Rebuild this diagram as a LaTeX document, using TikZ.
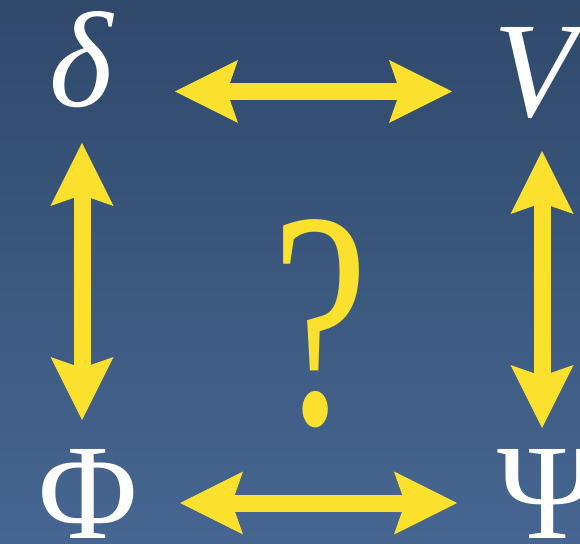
\documentclass[tikz,border=0pt]{standalone}
\usepackage{fontspec}
\setmainfont{Liberation Serif}
\usepackage{tikz}
\usetikzlibrary{arrows.meta,positioning}
\definecolor{bgtop}{RGB}{48,73,107}
\definecolor{bgbot}{RGB}{70,102,145}
\definecolor{sunny}{RGB}{251,225,45}

\begin{document}
\begin{tikzpicture}[
  x=1pt, y=1pt,
  sym/.style={inner sep=0pt, anchor=base, text=white, font=\fontsize{136}{136}\selectfont},
  quest/.style={inner sep=0pt, anchor=base, text=sunny, font=\fontsize{308}{308}\selectfont},
  dbl/.style={{Stealth[length=63pt, width=63pt, inset=11pt, line width=0pt]}-{Stealth[length=63pt, width=63pt, inset=11pt, line width=0pt]}, line width=17pt, sunny},
]
% --- Background ---
\useasboundingbox (0,0) rectangle (580,543);
\clip (0,0) rectangle (580,543);
\shade[top color=bgtop, bottom color=bgbot] (0,0) rectangle (580,543);

% --- Letters ---
\node[sym] (delta) at (81,436) {\itshape δ};
\node[sym] (V) at (535,426) {\itshape V};
\node[sym] (Phi) at (88,5) {Φ};
\node[sym] (Psi) at (548,5) {Ψ};
\node[quest] (q) at (320,119) {\scalebox{0.7}[1]{?}};

% --- Arrow ends ---
\coordinate (top-l) at (175,451.5);
\coordinate (top-r) at (452,451.5);
\coordinate (bot-l) at (180,40);
\coordinate (bot-r) at (457,40);
\coordinate (lft-t) at (82,400);
\coordinate (lft-b) at (82,123);
\coordinate (rgt-t) at (542,392);
\coordinate (rgt-b) at (542,115);

% --- Double arrows ---
\draw[dbl] (top-l) -- (top-r);
\draw[dbl] (bot-l) -- (bot-r);
\draw[dbl] (lft-t) -- (lft-b);
\draw[dbl] (rgt-t) -- (rgt-b);
\end{tikzpicture}
\end{document}
